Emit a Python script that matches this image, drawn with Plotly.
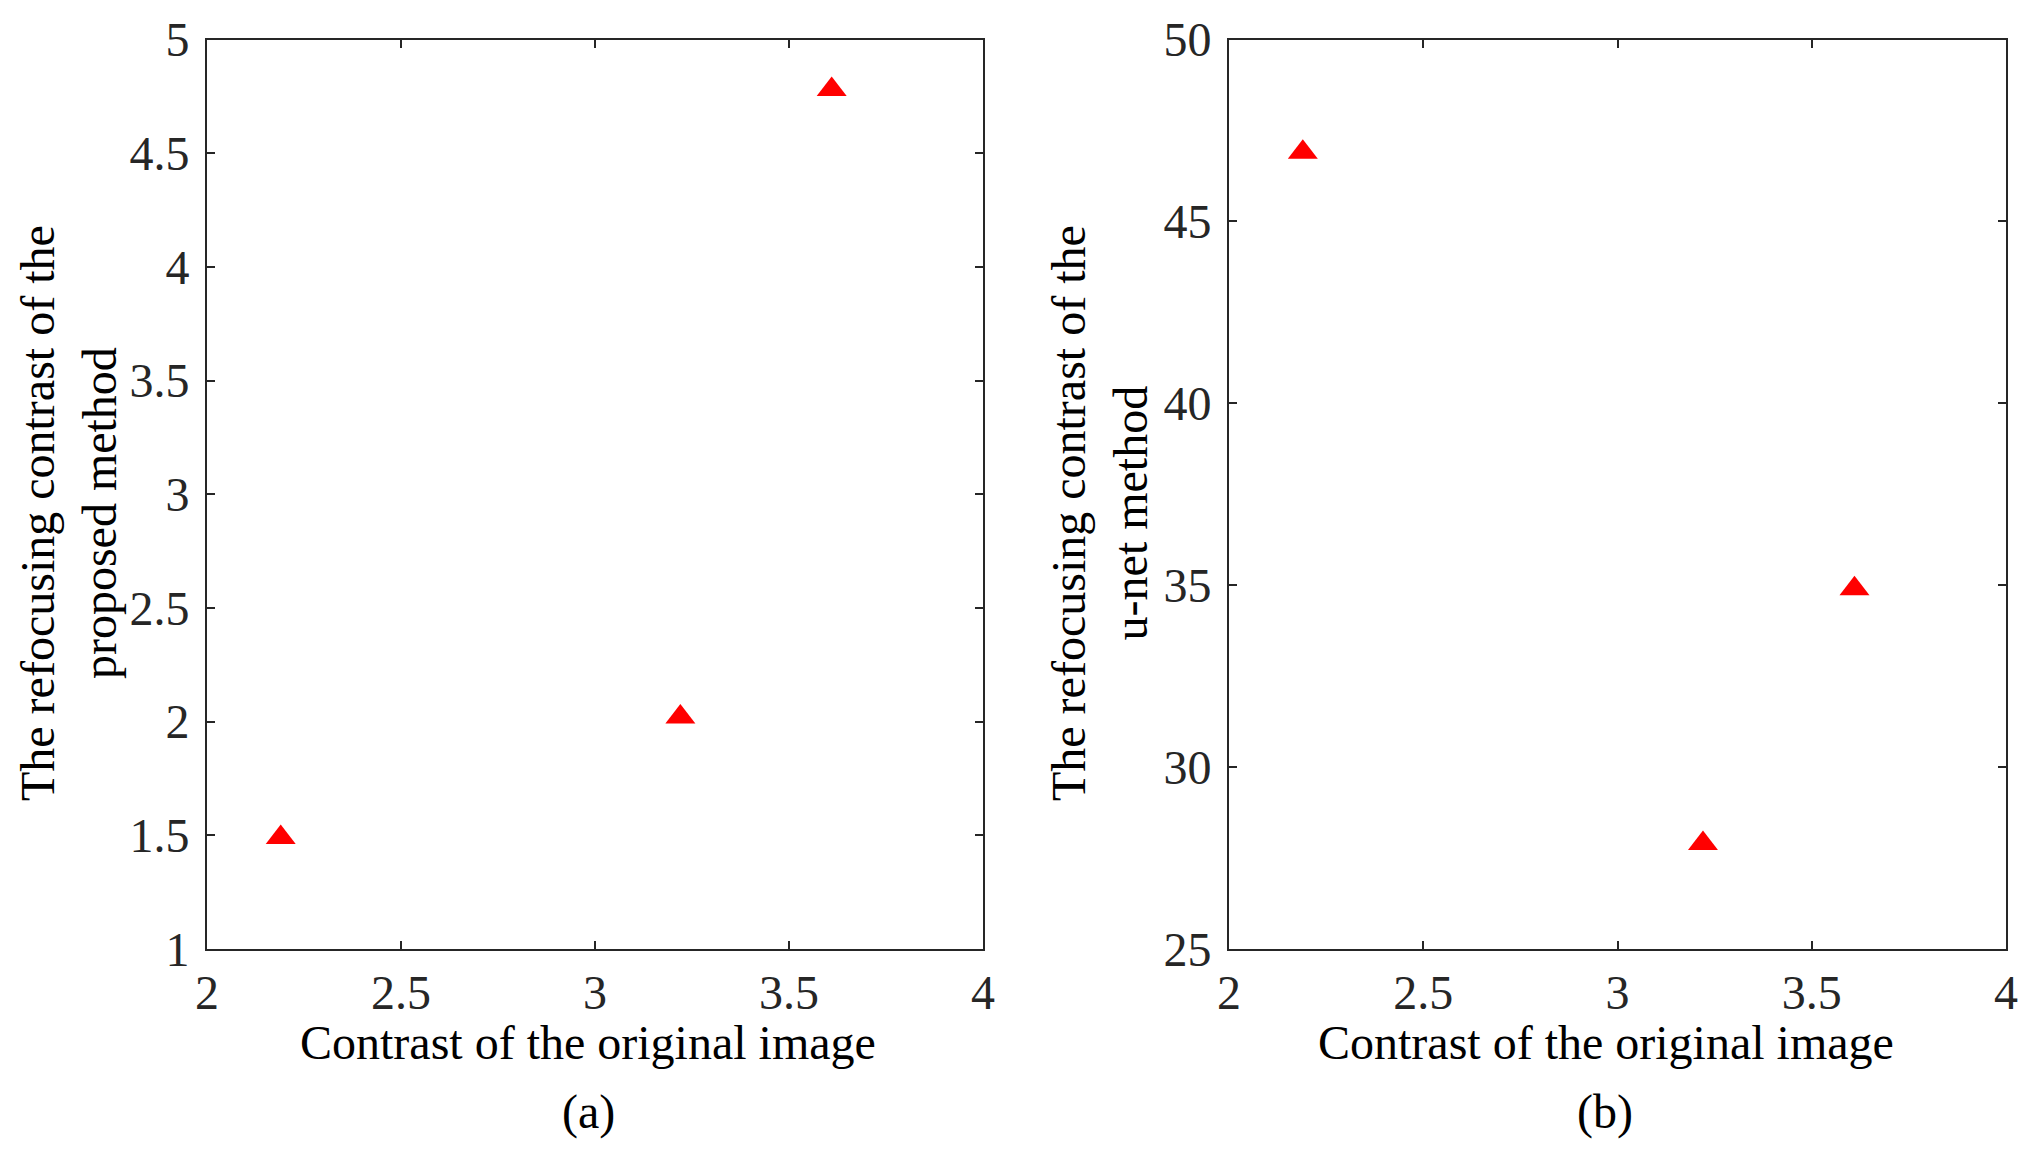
import plotly.graph_objects as go

# Werte
orig_contrast = [2.19, 3.22, 3.61]
proposed_contrast = [1.49, 2.02, 4.78]
unet_contrast = [46.9, 27.9, 34.9]

x_ticks = [2, 2.5, 3, 3.5, 4]
x_ticklabels = ["2", "2.5", "3", "3.5", "4"]
y1_ticks = [1, 1.5, 2, 2.5, 3, 3.5, 4, 4.5, 5]
y1_ticklabels = ["1", "1.5", "2", "2.5", "3", "3.5", "4", "4.5", "5"]
y2_ticks = [25, 30, 35, 40, 45, 50]
y2_ticklabels = ["25", "30", "35", "40", "45", "50"]

# Seite hat 8px Body-Rand -> Figur etwas kleiner, Koordinaten verschoben
OFF = 8
W, H = 2027 - OFF, 1154 - OFF
FONT = "Liberation Serif"
AX = "#262626"

def px(x):
    return (x - OFF) / W

def py(y):
    return (H - (y - OFF)) / H

fig = go.Figure()

marker = dict(symbol="triangle-up", size=26, color="#ff0000", line=dict(width=0))
fig.add_trace(go.Scatter(x=orig_contrast, y=proposed_contrast, mode="markers",
                         marker=marker, xaxis="x", yaxis="y", showlegend=False))
fig.add_trace(go.Scatter(x=orig_contrast, y=unet_contrast, mode="markers",
                         marker=marker, xaxis="x2", yaxis="y2", showlegend=False))

axis_style = dict(showline=True, linecolor=AX, linewidth=2, mirror="ticks",
                  ticks="inside", ticklen=8, tickwidth=2, tickcolor=AX,
                  showgrid=False, zeroline=False, automargin=False,
                  tickfont=dict(family=FONT, size=48, color=AX))

ydom = [py(949), py(39.5)]

fig.update_layout(
    template="none",
    width=W, height=H,
    margin=dict(l=0, r=0, t=0, b=0),
    paper_bgcolor="white", plot_bgcolor="white",
    xaxis=dict(domain=[px(207), px(983)], range=[2, 4], tickvals=x_ticks,
               ticktext=x_ticklabels, anchor="y", **axis_style),
    yaxis=dict(domain=ydom, range=[1, 5], tickvals=y1_ticks,
               ticktext=y1_ticklabels, anchor="x", ticklabelstandoff=6, **axis_style),
    xaxis2=dict(domain=[px(1229), px(2006)], range=[2, 4], tickvals=x_ticks,
                ticktext=x_ticklabels, anchor="y2", **axis_style),
    yaxis2=dict(domain=ydom, range=[25, 50], tickvals=y2_ticks,
                ticktext=y2_ticklabels, anchor="x2", ticklabelstandoff=6, **axis_style),
)

def note(text, x, y, angle=0):
    fig.add_annotation(text=text, x=px(x), y=py(y), xref="paper", yref="paper",
                       showarrow=False, textangle=angle, xanchor="center", yanchor="middle",
                       font=dict(family=FONT, size=48, color="black"))

note("Contrast of the original image", 588, 1042)
note("Contrast of the original image", 1606, 1042)
note("(a)", 588, 1112)
note("(b)", 1605, 1112)
note("The refocusing contrast of the<br>proposed method", 68, 513, -90)
note("The refocusing contrast of the<br>u-net method", 1099, 513, -90)

fig.write_html("out.html")
